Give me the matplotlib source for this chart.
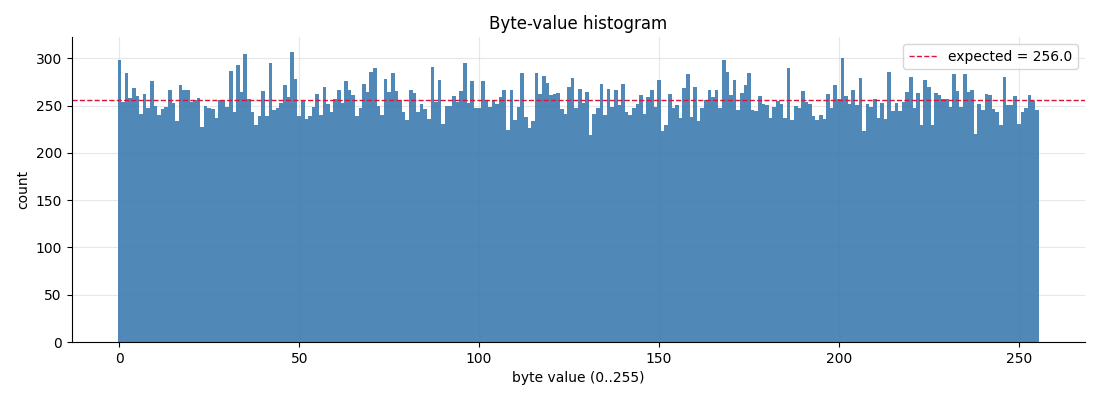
import numpy as np
import matplotlib
matplotlib.use("Agg")
import matplotlib.pyplot as plt

# counts per byte value 0..255
counts = [
    298, 254, 285, 258, 269, 260, 241, 262, 247, 276, 250, 240, 246, 249, 267, 253,
    234, 272, 266, 266, 254, 256, 258, 227, 250, 248, 246, 237, 256, 256, 249, 287,
    243, 293, 264, 305, 257, 243, 229, 239, 265, 239, 295, 245, 247, 253, 272, 259,
    307, 278, 239, 255, 236, 239, 249, 262, 240, 270, 252, 243, 257, 267, 253, 276,
    267, 261, 239, 247, 273, 264, 286, 290, 250, 240, 278, 264, 284, 265, 256, 243,
    235, 267, 263, 243, 252, 246, 236, 291, 254, 277, 231, 250, 250, 260, 254, 265,
    295, 253, 276, 248, 248, 276, 255, 249, 256, 252, 259, 267, 224, 267, 235, 249,
    284, 238, 226, 234, 284, 262, 281, 274, 261, 262, 263, 246, 241, 270, 279, 248,
    268, 253, 264, 219, 241, 248, 273, 240, 268, 249, 267, 251, 273, 243, 240, 247,
    252, 261, 241, 259, 266, 249, 277, 223, 230, 262, 247, 251, 237, 269, 283, 238,
    270, 234, 247, 256, 266, 259, 267, 248, 298, 286, 261, 277, 245, 263, 272, 285,
    245, 244, 260, 252, 251, 237, 249, 255, 252, 237, 290, 235, 250, 248, 265, 254,
    252, 239, 235, 240, 236, 262, 247, 272, 257, 300, 260, 252, 267, 251, 279, 223,
    252, 249, 257, 237, 253, 236, 286, 244, 253, 244, 254, 264, 280, 248, 263, 230,
    277, 270, 230, 263, 261, 257, 257, 249, 283, 265, 249, 283, 264, 267, 220, 252,
    245, 262, 261, 246, 243, 230, 280, 251, 251, 260, 231, 243, 247, 261, 255, 245,
]
byte_values = np.arange(256)
expected = 256.0

fig, ax = plt.subplots(figsize=(11, 4), dpi=100)
ax.bar(byte_values, counts, width=1.0, color="steelblue", alpha=0.95, linewidth=0)
ax.axhline(expected, color="crimson", ls="--", lw=1, label=f"expected = {expected}")
ax.set_title("Byte-value histogram")
ax.set_xlabel("byte value (0..255)")
ax.set_ylabel("count")
ax.grid(True, color="#dddddd", alpha=0.7)
ax.set_axisbelow(True)
ax.spines["top"].set_visible(False)
ax.spines["right"].set_visible(False)
ax.legend(loc="upper right")
fig.subplots_adjust(left=0.065, right=0.986, top=0.907, bottom=0.145)
fig.savefig("out.png")
